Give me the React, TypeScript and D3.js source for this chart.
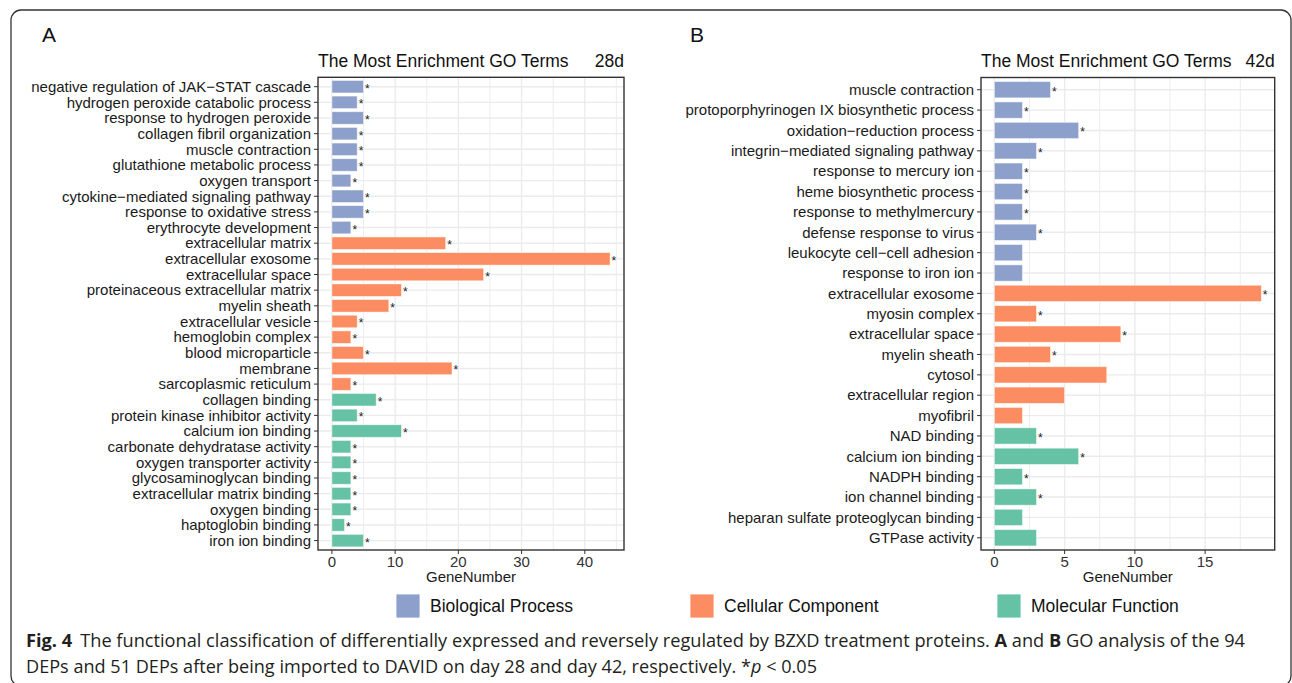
import React from "react";
import * as d3 from "d3";

const termsA = [
  "negative regulation of JAK−STAT cascade",
  "hydrogen peroxide catabolic process",
  "response to hydrogen peroxide",
  "collagen fibril organization",
  "muscle contraction",
  "glutathione metabolic process",
  "oxygen transport",
  "cytokine−mediated signaling pathway",
  "response to oxidative stress",
  "erythrocyte development",
  "extracellular matrix",
  "extracellular exosome",
  "extracellular space",
  "proteinaceous extracellular matrix",
  "myelin sheath",
  "extracellular vesicle",
  "hemoglobin complex",
  "blood microparticle",
  "membrane",
  "sarcoplasmic reticulum",
  "collagen binding",
  "protein kinase inhibitor activity",
  "calcium ion binding",
  "carbonate dehydratase activity",
  "oxygen transporter activity",
  "glycosaminoglycan binding",
  "extracellular matrix binding",
  "oxygen binding",
  "haptoglobin binding",
  "iron ion binding",
];
const countsA = [5, 4, 5, 4, 4, 4, 3, 5, 5, 3, 18, 44, 24, 11, 9, 4, 3, 5, 19, 3, 7, 4, 11, 3, 3, 3, 3, 3, 2, 5];
const groupsA = [
  "BP", "BP", "BP", "BP", "BP", "BP", "BP", "BP", "BP", "BP",
  "CC", "CC", "CC", "CC", "CC", "CC", "CC", "CC", "CC", "CC",
  "MF", "MF", "MF", "MF", "MF", "MF", "MF", "MF", "MF", "MF",
];
const sigA = [
  true, true, true, true, true, true, true, true, true, true,
  true, true, true, true, true, true, true, true, true, true,
  true, true, true, true, true, true, true, true, true, true,
];
const ticksA = [0, 10, 20, 30, 40];
const minorA = [5, 15, 25, 35, 45];

const termsB = [
  "muscle contraction",
  "protoporphyrinogen IX biosynthetic process",
  "oxidation−reduction process",
  "integrin−mediated signaling pathway",
  "response to mercury ion",
  "heme biosynthetic process",
  "response to methylmercury",
  "defense response to virus",
  "leukocyte cell−cell adhesion",
  "response to iron ion",
  "extracellular exosome",
  "myosin complex",
  "extracellular space",
  "myelin sheath",
  "cytosol",
  "extracellular region",
  "myofibril",
  "NAD binding",
  "calcium ion binding",
  "NADPH binding",
  "ion channel binding",
  "heparan sulfate proteoglycan binding",
  "GTPase activity",
];
const countsB = [4, 2, 6, 3, 2, 2, 2, 3, 2, 2, 19, 3, 9, 4, 8, 5, 2, 3, 6, 2, 3, 2, 3];
const groupsB = [
  "BP", "BP", "BP", "BP", "BP", "BP", "BP", "BP", "BP", "BP",
  "CC", "CC", "CC", "CC", "CC", "CC", "CC",
  "MF", "MF", "MF", "MF", "MF", "MF",
];
const sigB = [
  true, true, true, true, true, true, true, true, false, false,
  true, true, true, true, false, false, false,
  true, true, true, true, false, false,
];
const ticksB = [0, 5, 10, 15];
const minorB = [2.5, 7.5, 12.5, 17.5];

const legendKeys = ["BP", "CC", "MF"];
const legendLabels = ["Biological Process", "Cellular Component", "Molecular Function"];
const colorRange = ["#8DA0CB", "#FC8D62", "#66C2A5"];

const FONT = "'Liberation Sans', Arial, Helvetica, sans-serif";
const color = d3.scaleOrdinal<string, string>().domain(legendKeys).range(colorRange);

type PanelProps = {
  terms: string[];
  counts: number[];
  groups: string[];
  sig: boolean[];
  ticks: number[];
  minor: number[];
  x0: number;
  x1: number;
  y0: number;
  y1: number;
  day: string;
  letter: string;
  letterX: number;
};

function Panel(p: PanelProps) {
  const maxV = d3.max(p.counts) as number;
  const pad = maxV * 0.05;
  const x = d3.scaleLinear().domain([-pad, maxV + pad]).range([p.x0, p.x1]);
  const y = d3.scalePoint<string>().domain(p.terms).range([p.y0, p.y1]).padding(0.6);
  const step = y.step();
  const bh = step * 0.8;
  return (
    <g fontFamily={FONT}>
      <text x={p.letterX} y={42} fontSize={21} fill="#111">{p.letter}</text>
      <text x={p.x0} y={67} fontSize={17.5} fill="#111">The Most Enrichment GO Terms</text>
      <text x={p.x1} y={67} fontSize={17.5} fill="#111" textAnchor="end">{p.day}</text>
      <rect x={p.x0} y={p.y0} width={p.x1 - p.x0} height={p.y1 - p.y0} fill="#fff" />
      {p.minor.filter((v) => x(v) < p.x1).map((v) => (
        <line key={"mn" + v} x1={x(v)} x2={x(v)} y1={p.y0} y2={p.y1} stroke="#EBEBEB" strokeWidth={0.9} />
      ))}
      {p.ticks.map((v) => (
        <line key={"mj" + v} x1={x(v)} x2={x(v)} y1={p.y0} y2={p.y1} stroke="#EBEBEB" strokeWidth={1.4} />
      ))}
      {p.terms.map((t) => (
        <line key={"hg" + t} x1={p.x0} x2={p.x1} y1={y(t)} y2={y(t)} stroke="#EBEBEB" strokeWidth={1.4} />
      ))}
      {p.terms.map((t, i) => (
        <rect
          key={"b" + t}
          x={x(0)}
          y={(y(t) as number) - bh / 2}
          width={x(p.counts[i]) - x(0)}
          height={bh}
          fill={color(p.groups[i])}
          stroke="#ffffff"
          strokeOpacity={0.6}
          strokeWidth={0.8}
        />
      ))}
      {p.terms.map((t, i) =>
        p.sig[i] ? (
          <text key={"s" + t} x={x(p.counts[i]) + 1.5} y={(y(t) as number) + 6} fontSize={12} fill="#222">*</text>
        ) : null
      )}
      <rect x={p.x0} y={p.y0} width={p.x1 - p.x0} height={p.y1 - p.y0} fill="none" stroke="#333" strokeWidth={1.4} />
      {p.terms.map((t) => (
        <g key={"yl" + t}>
          <line x1={p.x0 - 4} x2={p.x0} y1={y(t)} y2={y(t)} stroke="#333" strokeWidth={1} />
          <text x={p.x0 - 7} y={y(t)} dy="0.35em" fontSize={15} fill="#1a1a1a" textAnchor="end">{t}</text>
        </g>
      ))}
      {p.ticks.map((v) => (
        <g key={"xl" + v}>
          <line x1={x(v)} x2={x(v)} y1={p.y1} y2={p.y1 + 4} stroke="#333" strokeWidth={1} />
          <text x={x(v)} y={567} fontSize={15} fill="#333" textAnchor="middle">{v}</text>
        </g>
      ))}
      <text x={(p.x0 + p.x1) / 2} y={582} fontSize={15} fill="#1a1a1a" textAnchor="middle">GeneNumber</text>
    </g>
  );
}

export default function App() {
  const legendX = [396, 690, 997];
  return (
    <svg
      width={1292}
      height={683}
      style={{ position: "absolute", left: 0, top: 0, background: "#fff" }}
    >
      <rect x={11} y={10} width={1280} height={676} rx={10} fill="#fff" stroke="#333" strokeWidth={1.3} />
      <Panel
        terms={termsA}
        counts={countsA}
        groups={groupsA}
        sig={sigA}
        ticks={ticksA}
        minor={minorA}
        x0={318}
        x1={624}
        y0={77.3}
        y1={550}
        day="28d"
        letter="A"
        letterX={42}
      />
      <Panel
        terms={termsB}
        counts={countsB}
        groups={groupsB}
        sig={sigB}
        ticks={ticksB}
        minor={minorB}
        x0={981}
        x1={1274.7}
        y0={77.5}
        y1={550}
        day="42d"
        letter="B"
        letterX={690}
      />
      {legendKeys.map((k, i) => (
        <g key={"lg" + k} fontFamily={FONT}>
          <rect x={legendX[i]} y={594} width={24} height={24} fill={color(k)} stroke="#fff" strokeWidth={0.8} />
          <text x={legendX[i] + 34} y={612} fontSize={17.5} fill="#111">{legendLabels[i]}</text>
        </g>
      ))}
      <g fontFamily="'Liberation Sans Narrow', 'Open Sans', sans-serif" fill="#231f20" fontSize={18}>
        <text x={26} y={646.5} textLength={1219} lengthAdjust="spacingAndGlyphs">
          <tspan fontWeight="bold">Fig. 4</tspan>
          <tspan dx={8}>The functional classification of differentially expressed and reversely regulated by BZXD treatment proteins. </tspan>
          <tspan fontWeight="bold">A</tspan>
          <tspan> and </tspan>
          <tspan fontWeight="bold">B</tspan>
          <tspan> GO analysis of the 94</tspan>
        </text>
        <text x={26} y={672.5} textLength={791} lengthAdjust="spacingAndGlyphs">
          <tspan>DEPs and 51 DEPs after being imported to DAVID on day 28 and day 42, respectively. *</tspan>
          <tspan fontStyle="italic">p</tspan>
          <tspan> {"<"} 0.05</tspan>
        </text>
      </g>
    </svg>
  );
}
